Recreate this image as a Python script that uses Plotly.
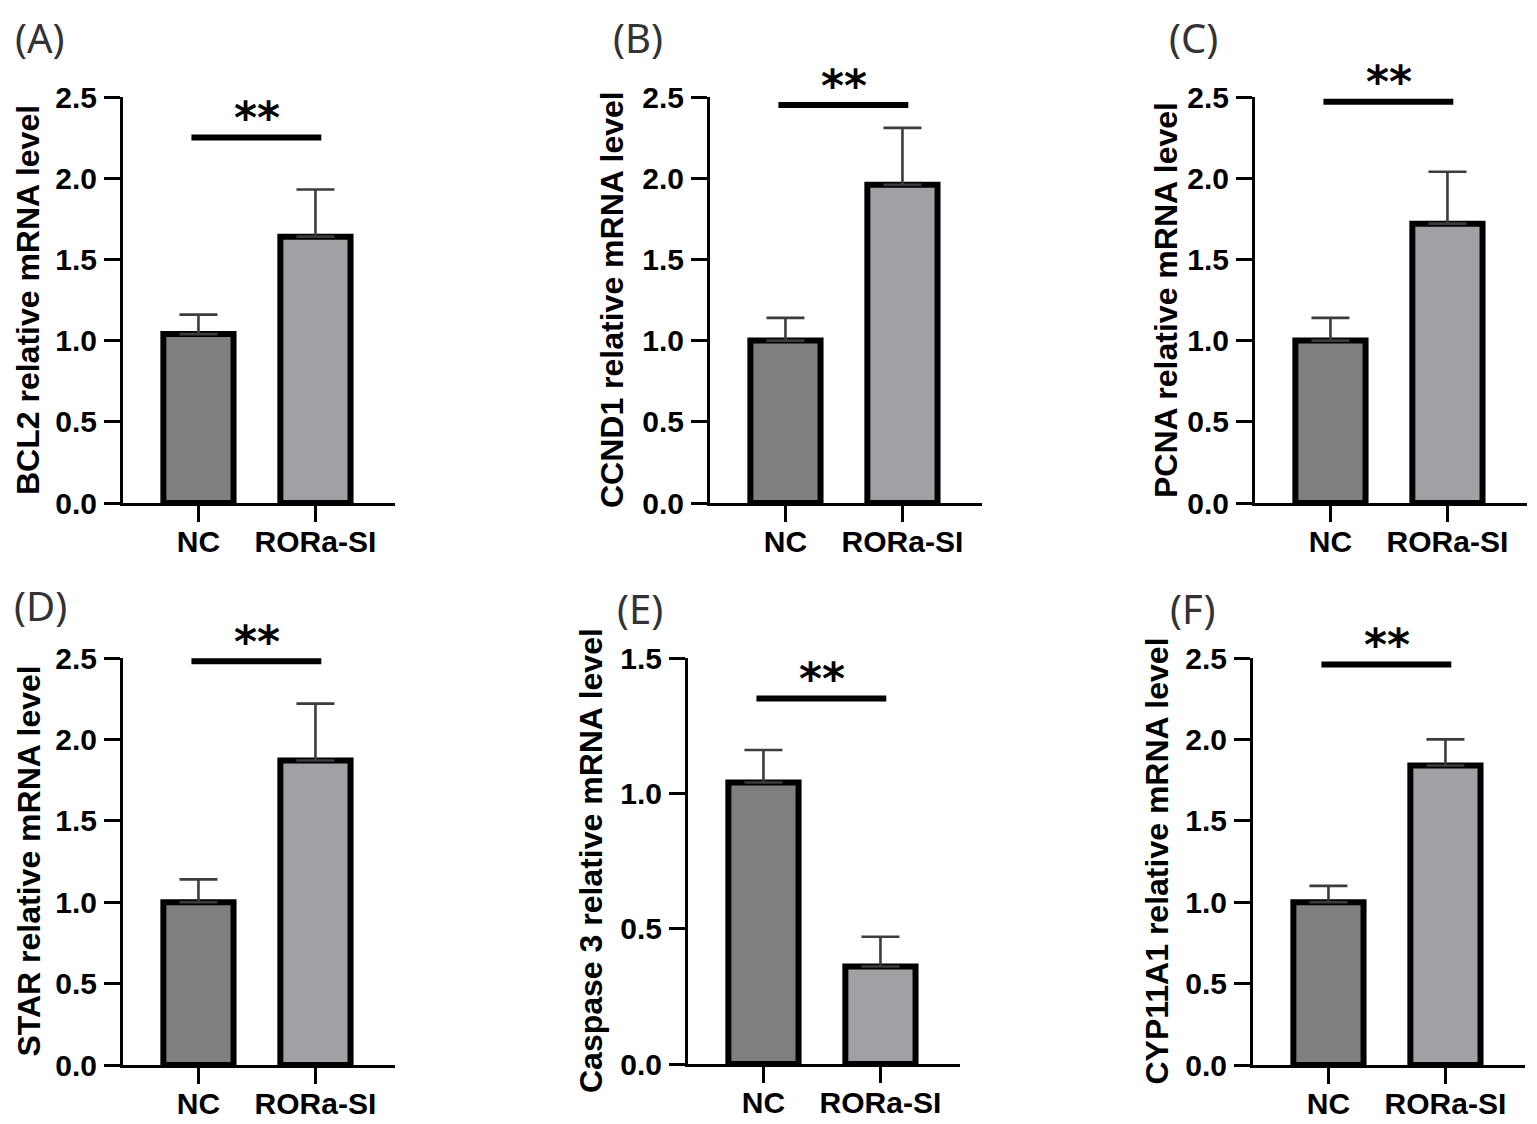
import plotly.graph_objects as go

# ---------------- data ----------------
categories = ["NC", "RORa-SI"]
genes = ["BCL2", "CCND1", "PCNA", "STAR", "Caspase 3", "CYP11A1"]
panel_labels = ["(A)", "(B)", "(C)", "(D)", "(E)", "(F)"]
nc_means = [1.04, 1.00, 1.00, 1.00, 1.04, 1.00]
nc_sem = [0.12, 0.14, 0.14, 0.14, 0.12, 0.10]
rora_means = [1.64, 1.96, 1.72, 1.87, 0.36, 1.84]
rora_sem = [0.29, 0.35, 0.32, 0.35, 0.11, 0.16]
sig_level = [2.25, 2.45, 2.47, 2.48, 1.35, 2.46]
sig_text = ["**", "**", "**", "**", "**", "**"]
y_max = [2.5, 2.5, 2.5, 2.5, 1.5, 2.5]

# ---------------- layout geometry (pixels of the target picture) ----------------
W, H = 1537, 1124
OFF = 8  # page body margin offset
panel_left = [123, 710, 1255, 123, 688, 1253]
panel_width = 272
row_top = [97, 97, 97, 658, 658, 658]
row_bottom = [503, 503, 503, 1065, 1064, 1065]
title_x = [28, 612, 1166, 28, 591, 1156]
label_pos = [(40, 38), (638, 38), (1193, 38), (40, 605), (640, 608), (1193, 608)]

colors = ["#7f7f7f", "#a1a1a5"]
FONT = "Liberation Sans, Arial, sans-serif"


def px_x(v):
    return (v - OFF) / W


def px_y(v):
    return (H - (v - OFF)) / H


fig = go.Figure()
annotations = []
shapes = []

for i in range(6):
    n = i + 1
    xa = "x" if n == 1 else f"x{n}"
    ya = "y" if n == 1 else f"y{n}"
    fig.add_trace(go.Bar(
        x=categories,
        y=[nc_means[i], rora_means[i]],
        width=0.6,
        marker=dict(color=colors, line=dict(color="black", width=6)),
        error_y=dict(type="data", symmetric=False,
                     array=[nc_sem[i], rora_sem[i]], arrayminus=[0, 0],
                     color="#3c3c3c", thickness=2.6, width=19),
        xaxis=xa, yaxis=ya, showlegend=False,
    ))
    axis_common = dict(showline=True, linecolor="black", linewidth=3,
                       ticks="outside", ticklen=16, tickwidth=3, tickcolor="black",
                       showgrid=False, zeroline=False, automargin=False,
                       tickfont=dict(family=FONT, size=30, color="black", weight="bold"))
    fig.layout[("xaxis" if n == 1 else f"xaxis{n}")] = dict(
        domain=[px_x(panel_left[i]), px_x(panel_left[i] + panel_width)],
        anchor=ya, range=[-0.645, 1.68],
        type="category", ticklabelstandoff=-6, **axis_common)
    fig.layout[("yaxis" if n == 1 else f"yaxis{n}")] = dict(
        domain=[px_y(row_bottom[i]), px_y(row_top[i])], anchor=xa, range=[0, y_max[i]],
        tick0=0, dtick=0.5, tickformat=".1f", ticklabelstandoff=1, **axis_common)

    # significance bar
    shapes.append(dict(type="line", xref=xa, yref=ya,
                       x0=-0.06, x1=1.05, y0=sig_level[i], y1=sig_level[i],
                       line=dict(color="black", width=6)))
    annotations.append(dict(xref=xa, yref=ya, x=0.5, y=sig_level[i],
                            text=sig_text[i], showarrow=False,
                            yanchor="middle", yshift=20,
                            font=dict(family="DejaVu Sans, sans-serif", size=44,
                                      color="black", weight="bold")))
    # y-axis title
    annotations.append(dict(xref="paper", yref="paper",
                            x=px_x(title_x[i]), y=px_y((row_top[i] + row_bottom[i]) / 2),
                            text=f"{genes[i]} relative mRNA level", textangle=-90,
                            showarrow=False, xanchor="center", yanchor="middle",
                            font=dict(family=FONT, size=32, color="black", weight="bold")))
    # panel label
    annotations.append(dict(xref="paper", yref="paper",
                            x=px_x(label_pos[i][0]), y=px_y(label_pos[i][1]),
                            text=panel_labels[i], showarrow=False,
                            xanchor="center", yanchor="middle",
                            font=dict(family="Noto Sans, sans-serif", size=40, color="#333333")))

fig.update_layout(width=W, height=H,
                  margin=dict(l=0, r=0, t=0, b=0, pad=0, autoexpand=False),
                  plot_bgcolor="white", paper_bgcolor="white",
                  annotations=annotations, shapes=shapes, bargap=0.4)

fig.write_html("out.html")
